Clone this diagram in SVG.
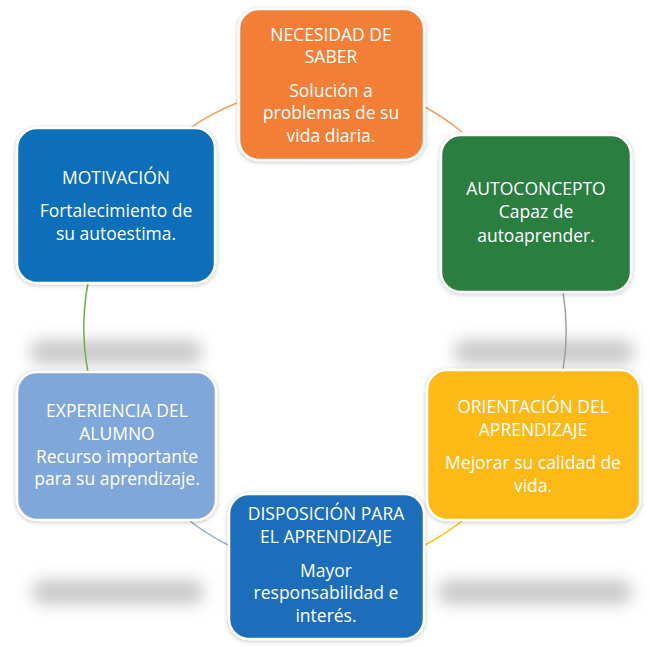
<svg xmlns="http://www.w3.org/2000/svg" width="650" height="647" viewBox="0 0 650 647">
<style>
.box{stroke:#ffffff;stroke-width:2.5;filter:url(#ds)}
.t{font-family:"Open Sans","Liberation Sans",sans-serif;font-size:17.5px;fill:#ffffff;text-anchor:middle}
.c{fill:none;stroke-width:1.5}
.sh{fill:#c8c8c8;filter:url(#blur)}
</style>
<defs>
<filter id="ds" x="-10%" y="-10%" width="120%" height="120%">
<feDropShadow dx="0" dy="1" stdDeviation="2" flood-color="#000000" flood-opacity="0.25"/>
</filter>
<filter id="blur" x="-20%" y="-150%" width="140%" height="400%">
<feGaussianBlur stdDeviation="8"/>
</filter>
</defs>
<rect width="650" height="647" fill="#ffffff"/>
<g id="shadows">
<rect class="sh" x="30" y="340" width="172" height="24" rx="12"/>
<rect class="sh" x="454" y="340" width="180" height="24" rx="12"/>
<rect class="sh" x="32" y="580" width="172" height="24" rx="12"/>
<rect class="sh" x="438" y="580" width="194" height="24" rx="12"/>
</g>
<g id="connectors">
<path class="c" stroke="#F4A06A" d="M237 103 A240 240 0 0 0 190 128"/>
<path class="c" stroke="#F4A06A" d="M425 107 A240 240 0 0 1 462 132"/>
<path class="c" stroke="#A0A0A0" d="M563 292 A240 240 0 0 1 563 370"/>
<path class="c" stroke="#FFC000" d="M462 521 A240 240 0 0 1 425 545"/>
<path class="c" stroke="#8FAADC" d="M190 521 A240 240 0 0 0 228 545"/>
<path class="c" stroke="#70AD47" d="M88 283 A240 240 0 0 0 88 372"/>
</g>
<g id="necesidad">
<rect class="box" x="239" y="9" width="185" height="151" rx="20" fill="#F27F36"/>
<text class="t" x="331" y="41">NECESIDAD DE</text>
<text class="t" x="331" y="63">SABER</text>
<text class="t" x="331" y="97">Solución a</text>
<text class="t" x="331" y="119">problemas de su</text>
<text class="t" x="331" y="142">vida diaria.</text>
</g>
<g id="motivacion">
<rect class="box" x="17" y="128" width="198" height="155" rx="20" fill="#0A6EB9"/>
<text class="t" x="116" y="184">MOTIVACIÓN</text>
<text class="t" x="116" y="217">Fortalecimiento de</text>
<text class="t" x="116" y="240">su autoestima.</text>
</g>
<g id="autoconcepto">
<rect class="box" x="441" y="135" width="190" height="157" rx="20" fill="#2A7E3F"/>
<text class="t" x="536" y="195">AUTOCONCEPTO</text>
<text class="t" x="536" y="218">Capaz de</text>
<text class="t" x="536" y="242">autoaprender.</text>
</g>
<g id="experiencia">
<rect class="box" x="17" y="372" width="199" height="148" rx="20" fill="#7FA7D9"/>
<text class="t" x="117" y="417">EXPERIENCIA DEL</text>
<text class="t" x="117" y="440">ALUMNO</text>
<text class="t" x="117" y="463">Recurso importante</text>
<text class="t" x="117" y="485">para su aprendizaje.</text>
</g>
<g id="orientacion">
<rect class="box" x="427" y="370" width="213" height="150" rx="20" fill="#FDB913"/>
<text class="t" x="533" y="413">ORIENTACIÓN DEL</text>
<text class="t" x="533" y="436">APRENDIZAJE</text>
<text class="t" x="533" y="469">Mejorar su calidad de</text>
<text class="t" x="533" y="492">vida.</text>
</g>
<g id="disposicion">
<rect class="box" x="229" y="494" width="195" height="145" rx="20" fill="#1F6EBA"/>
<text class="t" x="326" y="520">DISPOSICIÓN PARA</text>
<text class="t" x="326" y="543">EL APRENDIZAJE</text>
<text class="t" x="326" y="577">Mayor</text>
<text class="t" x="326" y="599">responsabilidad e</text>
<text class="t" x="326" y="622">interés.</text>
</g>
</svg>
